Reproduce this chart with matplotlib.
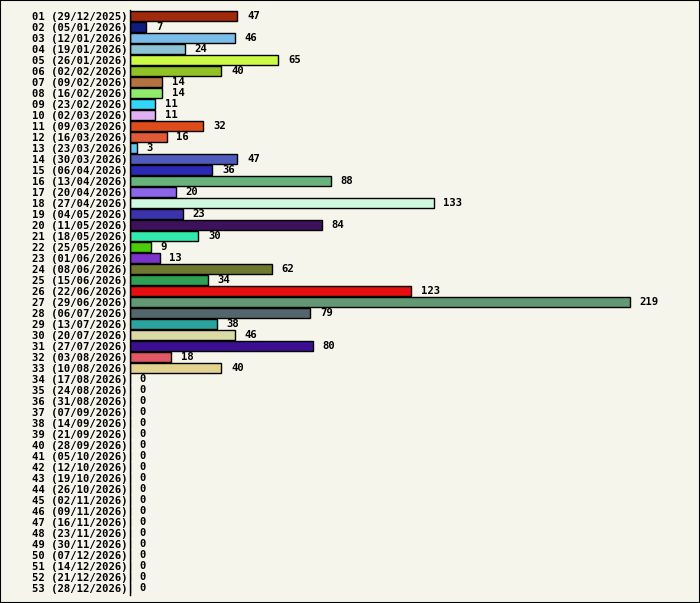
import matplotlib.pyplot as plt
from datetime import date, timedelta

values = [47, 7, 46, 24, 65, 40, 14, 14, 11, 11, 32, 16, 3, 47, 36, 88, 20, 133,
          23, 84, 30, 9, 13, 62, 34, 123, 219, 79, 38, 46, 80, 18, 40] + [0] * 20
colors = ['#a12a0c', '#111c80', '#7bbde9', '#8cc4d6', '#ccfa45', '#91c225',
          '#b37240', '#91ea6a', '#33d5f8', '#dfb0f2', '#df4c1c', '#e05a37',
          '#5fc8ee', '#4f5cbc', '#2929b5', '#67b37b', '#8c66ea', '#d0f8df',
          '#3a33ab', '#3d115c', '#31e9ad', '#4ccc06', '#7c33cc', '#6f782f',
          '#2ea155', '#e50f0f', '#629873', '#52666c', '#2aa49c', '#dbdaa6',
          '#3c0f92', '#e05863', '#e3d391'] + ['#888888'] * 20
start = date(2025, 12, 29)
labels = ['%02d (%s)' % (i + 1, (start + timedelta(weeks=i)).strftime('%d/%m/%Y'))
          for i in range(len(values))]

bg = '#f5f5eb'
fig = plt.figure(figsize=(7, 6.03), dpi=100, facecolor=bg)
fig.patches.append(plt.Rectangle((0, 0), 1, 1, transform=fig.transFigure,
                                 fill=False, edgecolor='black', linewidth=1.5))
W, H = 700, 603
ax = fig.add_axes([130 / W, 1 - 595 / H, 560 / W, 585 / H])
ax.set_facecolor(bg)
ypos = list(range(len(values)))
ax.barh(ypos, values, height=0.9, color=colors, edgecolor='black', linewidth=1)
ax.set_xlim(0, 219 * 560 / 500)
ax.set_ylim(52 + 7 / 11, -6 / 11)
for s in ['top', 'right', 'bottom']:
    ax.spines[s].set_visible(False)
ax.spines['left'].set_linewidth(1)
ax.set_xticks([])
ax.set_yticks(ypos)
ax.set_yticklabels(labels, family='DejaVu Sans Mono', fontweight='bold', fontsize=7.6)
ax.tick_params(axis='y', length=0, pad=2)
for y, v in zip(ypos, values):
    ax.text(v + 4.3, y, str(v), va='center', ha='left', family='DejaVu Sans Mono',
            fontweight='bold', fontsize=7.6)
fig.savefig('out.png', dpi=100, facecolor=bg)
